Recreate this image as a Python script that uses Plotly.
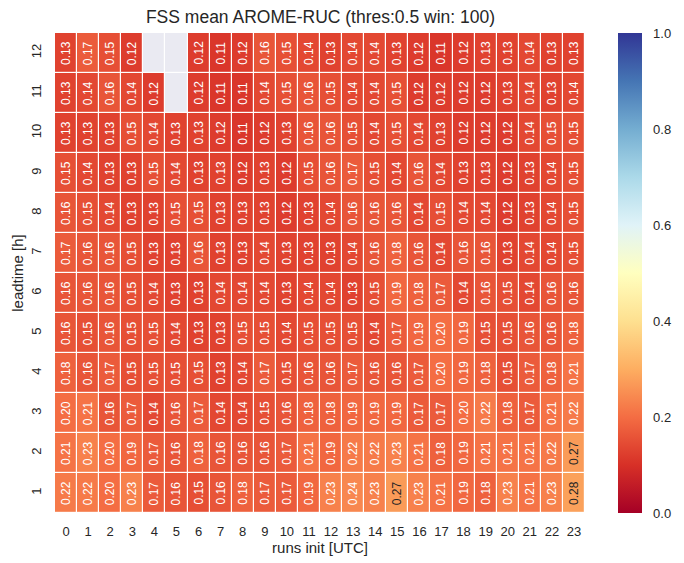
import plotly.graph_objects as go

# Forecast run initialisation hours (columns) and lead times (rows)
runs_init = list(range(24))
leadtimes = list(range(1, 13))

# FSS mean per lead time, one list per row (lead time 1 .. 12), None = missing
N = None
fss_lt1 = [0.22, 0.22, 0.20, 0.23, 0.17, 0.16, 0.15, 0.16, 0.18, 0.17, 0.17, 0.19,
           0.23, 0.24, 0.23, 0.27, 0.23, 0.21, 0.19, 0.18, 0.23, 0.21, 0.23, 0.28]
fss_lt2 = [0.21, 0.23, 0.20, 0.19, 0.17, 0.16, 0.18, 0.16, 0.16, 0.16, 0.17, 0.21,
           0.19, 0.22, 0.22, 0.23, 0.21, 0.18, 0.19, 0.21, 0.21, 0.21, 0.22, 0.27]
fss_lt3 = [0.20, 0.21, 0.16, 0.17, 0.14, 0.16, 0.17, 0.14, 0.14, 0.15, 0.16, 0.18,
           0.18, 0.19, 0.19, 0.19, 0.17, 0.17, 0.20, 0.22, 0.18, 0.17, 0.21, 0.22]
fss_lt4 = [0.18, 0.16, 0.17, 0.15, 0.15, 0.15, 0.15, 0.13, 0.14, 0.17, 0.15, 0.16,
           0.16, 0.17, 0.16, 0.16, 0.17, 0.20, 0.19, 0.18, 0.15, 0.17, 0.18, 0.21]
fss_lt5 = [0.16, 0.15, 0.16, 0.15, 0.15, 0.14, 0.13, 0.13, 0.15, 0.15, 0.14, 0.15,
           0.15, 0.15, 0.14, 0.17, 0.19, 0.20, 0.19, 0.15, 0.15, 0.16, 0.16, 0.18]
fss_lt6 = [0.16, 0.16, 0.16, 0.15, 0.14, 0.13, 0.13, 0.14, 0.14, 0.14, 0.13, 0.14,
           0.14, 0.13, 0.15, 0.19, 0.18, 0.17, 0.14, 0.16, 0.15, 0.14, 0.16, 0.16]
fss_lt7 = [0.17, 0.16, 0.16, 0.15, 0.13, 0.13, 0.16, 0.13, 0.13, 0.14, 0.13, 0.13,
           0.13, 0.14, 0.16, 0.18, 0.16, 0.14, 0.16, 0.16, 0.13, 0.14, 0.14, 0.15]
fss_lt8 = [0.16, 0.15, 0.14, 0.13, 0.13, 0.15, 0.15, 0.13, 0.13, 0.13, 0.12, 0.13,
           0.14, 0.16, 0.16, 0.16, 0.14, 0.15, 0.14, 0.14, 0.12, 0.13, 0.14, 0.15]
fss_lt9 = [0.15, 0.14, 0.13, 0.13, 0.15, 0.14, 0.13, 0.13, 0.12, 0.13, 0.12, 0.15,
           0.16, 0.17, 0.15, 0.14, 0.16, 0.14, 0.13, 0.13, 0.12, 0.13, 0.14, 0.15]
fss_lt10 = [0.13, 0.13, 0.13, 0.15, 0.14, 0.13, 0.13, 0.12, 0.11, 0.12, 0.13, 0.16,
            0.16, 0.15, 0.14, 0.15, 0.14, 0.13, 0.12, 0.12, 0.12, 0.14, 0.15, 0.15]
fss_lt11 = [0.13, 0.14, 0.16, 0.14, 0.12, N, 0.12, 0.11, 0.11, 0.14, 0.15, 0.16,
            0.15, 0.14, 0.14, 0.15, 0.12, 0.12, 0.12, 0.12, 0.13, 0.14, 0.13, 0.14]
fss_lt12 = [0.13, 0.17, 0.15, 0.12, N, N, 0.12, 0.11, 0.12, 0.16, 0.15, 0.14,
            0.13, 0.14, 0.14, 0.13, 0.12, 0.11, 0.12, 0.13, 0.13, 0.14, 0.13, 0.13]

fss = [fss_lt1, fss_lt2, fss_lt3, fss_lt4, fss_lt5, fss_lt6,
       fss_lt7, fss_lt8, fss_lt9, fss_lt10, fss_lt11, fss_lt12]

cbar_ticks = [0.0, 0.2, 0.4, 0.6, 0.8, 1.0]

# ColorBrewer RdYlBu, red at the low end
rdylbu = ["#a50026", "#d73027", "#f46d43", "#fdae61", "#fee090", "#ffffbf",
          "#e0f3f8", "#abd9e9", "#74add1", "#4575b4", "#313695"]
colorscale = [[i / 10, c] for i, c in enumerate(rdylbu)]


def hex_rgb(h):
    return tuple(int(h[i:i + 2], 16) for i in (1, 3, 5))


def color_at(v):
    v = min(max(v, 0.0), 1.0)
    i = min(int(v * 10), 9)
    t = v * 10 - i
    a, b = hex_rgb(rdylbu[i]), hex_rgb(rdylbu[i + 1])
    return tuple(a[k] + (b[k] - a[k]) * t for k in range(3))


def luminance(rgb):
    lin = []
    for c in rgb:
        c = c / 255
        lin.append(c / 12.92 if c <= 0.03928 else ((c + 0.055) / 1.055) ** 2.4)
    return 0.2126 * lin[0] + 0.7152 * lin[1] + 0.0722 * lin[2]


missing = [[1 if v is None else None for v in row] for row in fss]

fig = go.Figure()

fig.add_trace(go.Heatmap(
    x=runs_init, y=leadtimes, z=missing,
    colorscale=[[0, "#EAEAF2"], [1, "#EAEAF2"]],
    showscale=False, xgap=1.2, ygap=1.2, hoverinfo="skip",
))

fig.add_trace(go.Heatmap(
    x=runs_init, y=leadtimes, z=fss,
    zmin=0, zmax=1, colorscale=colorscale,
    xgap=1.2, ygap=1.2,
    colorbar=dict(
        thickness=24, len=1, lenmode="fraction",
        x=1.0622, xanchor="left", xpad=0,
        y=0.5, yanchor="middle", ypad=0,
        outlinewidth=0,
        tickvals=cbar_ticks, tickformat=".1f",
        ticks="outside", ticklen=9, tickcolor="rgba(0,0,0,0)",
        tickfont=dict(size=13, color="#262626"),
    ),
))

# Cell value labels, rotated like the y tick labels
for r, lt in enumerate(leadtimes):
    for c, hr in enumerate(runs_init):
        v = fss[r][c]
        if v is None:
            continue
        txt_col = "#262626" if luminance(color_at(v)) > 0.408 else "white"
        fig.add_annotation(
            x=hr, y=lt, text=f"{v:.2f}", showarrow=False, textangle=-90,
            font=dict(size=12, color=txt_col),
        )

fig.update_layout(
    width=684, height=563,
    margin=dict(l=55, r=98, t=33, b=46),
    paper_bgcolor="white", plot_bgcolor="white",
    font=dict(family="Liberation Sans, Arial, sans-serif", color="#262626"),
    title=dict(
        text="FSS mean AROME-RUC (thres:0.5 win: 100)",
        x=(55 + 265.5) / 684, xanchor="center",
        y=1 - 17 / 563, yanchor="middle",
        font=dict(size=17.5, color="#262626"),
    ),
    xaxis=dict(
        title=dict(text="runs init [UTC]", font=dict(size=15), standoff=2),
        tickmode="array", tickvals=runs_init,
        tickfont=dict(size=13), range=[-0.5, 23.5],
        showgrid=False, zeroline=False,
        ticks="outside", ticklen=6, tickcolor="rgba(0,0,0,0)",
    ),
    yaxis=dict(
        title=dict(text="leadtime [h]", font=dict(size=15), standoff=1),
        tickmode="array", tickvals=leadtimes, tickangle=-90,
        tickfont=dict(size=13), range=[0.5, 12.5],
        showgrid=False, zeroline=False,
        ticks="outside", ticklen=8, tickcolor="rgba(0,0,0,0)",
    ),
)

fig.write_html("out.html")
